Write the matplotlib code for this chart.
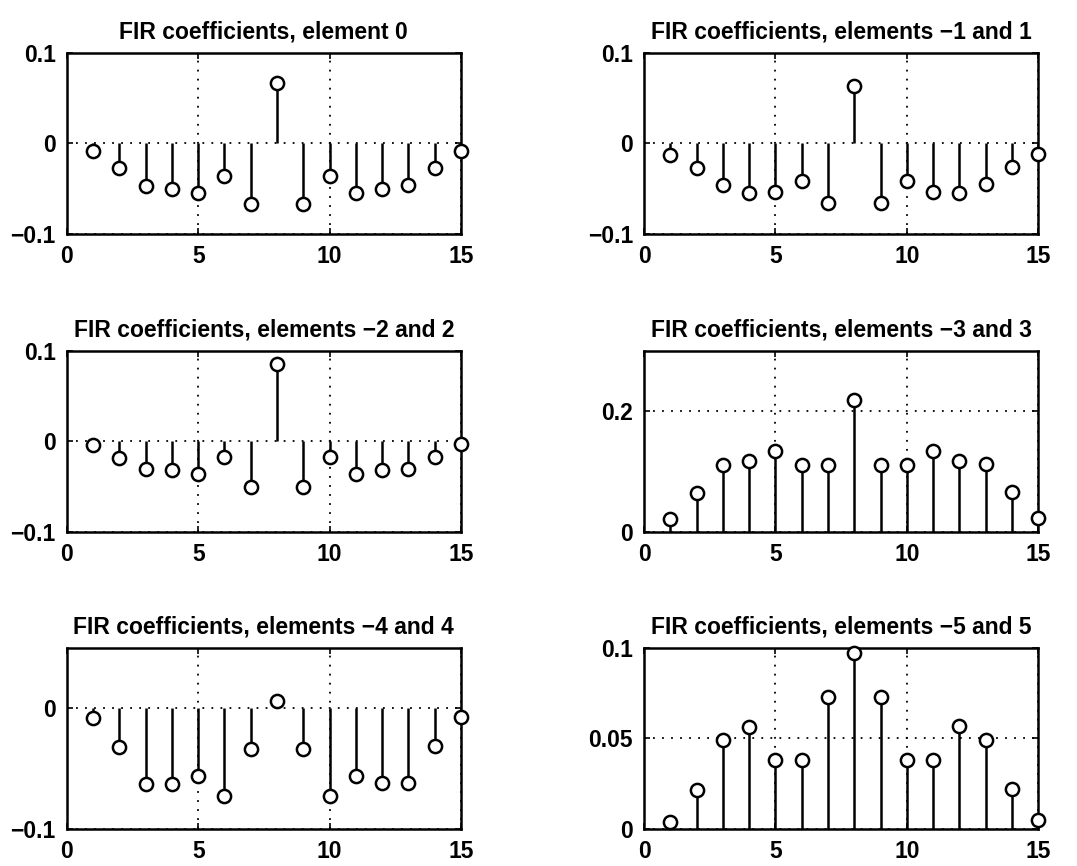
import numpy as np
import matplotlib
matplotlib.use("Agg")
from matplotlib import pyplot as plt

plt.rcParams['font.family'] = ['Liberation Sans', 'DejaVu Sans']

n = np.arange(1, 16)

h0 = [-0.008, -0.027, -0.047, -0.051, -0.055, -0.036, -0.067, 0.067,
      -0.067, -0.036, -0.055, -0.051, -0.046, -0.027, -0.008]
h1 = [-0.013, -0.027, -0.046, -0.055, -0.054, -0.042, -0.066, 0.063,
      -0.066, -0.042, -0.054, -0.055, -0.045, -0.026, -0.012]
h2 = [-0.004, -0.018, -0.031, -0.032, -0.036, -0.017, -0.051, 0.085,
      -0.051, -0.017, -0.036, -0.032, -0.031, -0.017, -0.003]
h3 = [0.021, 0.064, 0.111, 0.117, 0.133, 0.111, 0.111, 0.218,
      0.111, 0.111, 0.134, 0.117, 0.112, 0.066, 0.022]
h4 = [-0.008, -0.032, -0.063, -0.0625, -0.056, -0.073, -0.034, 0.006,
      -0.034, -0.073, -0.056, -0.062, -0.062, -0.031, -0.0075]
h5 = [0.004, 0.0215, 0.049, 0.056, 0.038, 0.038, 0.073, 0.097,
      0.073, 0.038, 0.038, 0.057, 0.049, 0.022, 0.0046]

titles = ['FIR coefficients, element 0',
          'FIR coefficients, elements \u22121 and 1',
          'FIR coefficients, elements \u22122 and 2',
          'FIR coefficients, elements \u22123 and 3',
          'FIR coefficients, elements \u22124 and 4',
          'FIR coefficients, elements \u22125 and 5']
series = [h0, h1, h2, h3, h4, h5]
ylims = [(-0.1, 0.1), (-0.1, 0.1), (-0.1, 0.1), (0, 0.3), (-0.1, 0.05), (0, 0.1)]
yticks = [[-0.1, 0, 0.1], [-0.1, 0, 0.1], [-0.1, 0, 0.1], [0, 0.2], [-0.1, 0], [0, 0.05, 0.1]]
ylabels = [['\u22120.1', '0', '0.1'], ['\u22120.1', '0', '0.1'], ['\u22120.1', '0', '0.1'],
           ['0', '0.2'], ['\u22120.1', '0'], ['0', '0.05', '0.1']]

fig = plt.figure(figsize=(10.77, 8.66), dpi=100)
lefts = [0.062, 0.598]
bottoms = [0.730, 0.386, 0.043]
w, h = 0.366, 0.209

for k in range(6):
    ax = fig.add_axes([lefts[k % 2], bottoms[k // 2], w, h])
    y = series[k]
    ax.vlines(n, 0, y, color='k', lw=1.8, zorder=2)
    ax.plot(n, y, 'o', mfc='white', mec='k', mew=1.8, ms=9.5, zorder=3, clip_on=False)
    ax.set_xlim(0, 15)
    ax.set_ylim(*ylims[k])
    ax.set_xticks([0, 5, 10, 15])
    ax.set_xticklabels(['0', '5', '10', '15'])
    ax.set_yticks(yticks[k])
    ax.set_yticklabels(ylabels[k])
    ax.grid(True, color='k', linestyle=(0, (1, 4)), linewidth=1.3)
    ax.set_axisbelow(True)
    ax.tick_params(direction='in', length=4, width=1.2, labelsize=16.5, pad=8,
                   top=True, right=True)
    for lab in ax.get_xticklabels() + ax.get_yticklabels():
        lab.set_fontweight('bold')
    for s in ax.spines.values():
        s.set_linewidth(1.8)
    ax.set_title(titles[k], fontsize=16.5, fontweight='bold', pad=10)

fig.savefig('out.png', dpi=100)
